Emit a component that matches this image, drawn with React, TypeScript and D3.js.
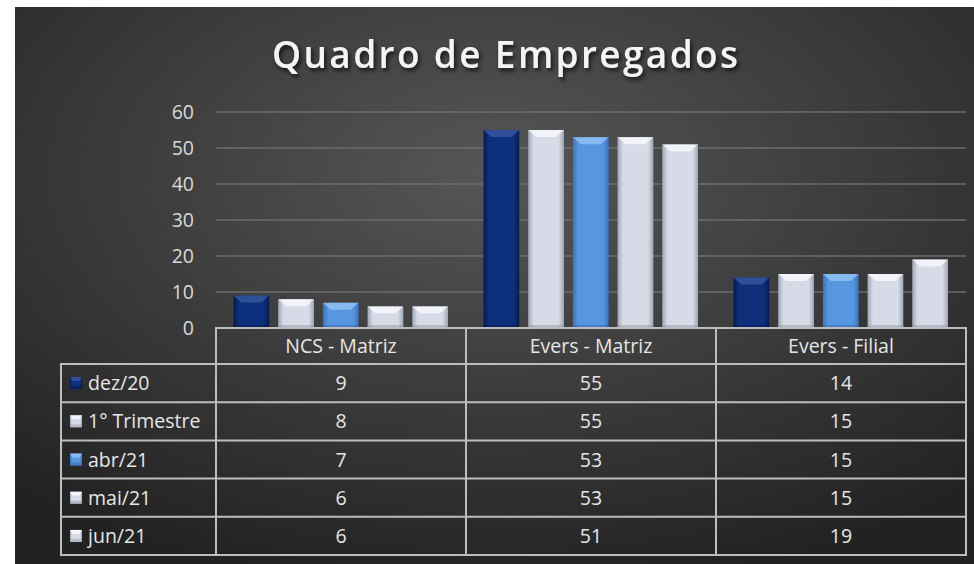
import React from "react";
import * as d3 from "d3";

const categories = ["NCS - Matriz", "Evers - Matriz", "Evers - Filial"];
const seriesNames = ["dez/20", "1° Trimestre", "abr/21", "mai/21", "jun/21"];
const dez20 = [9, 55, 14];
const trim1 = [8, 55, 15];
const abr21 = [7, 53, 15];
const mai21 = [6, 53, 15];
const jun21 = [6, 51, 19];
const seriesValues = [dez20, trim1, abr21, mai21, jun21];
const yTicks = [0, 10, 20, 30, 40, 50, 60];
const seriesStyle = ["navy", "silver", "blue", "silver", "silver"];

const W = 974;
const H = 564;
const FONT = "'Open Sans', Lato, sans-serif";

const palettes: Record<string, { edge: string; mid: string; top: string; bottom: string }> = {
  navy: { edge: "#061a4c", mid: "#0e2f7c", top: "#3b5ca3", bottom: "#051640" },
  silver: { edge: "#9ea6b6", mid: "#d6dbe7", top: "#fbfcff", bottom: "#8e95a4" },
  blue: { edge: "#3a72bd", mid: "#5797e0", top: "#95c6f5", bottom: "#2f62a8" },
};

export default function App() {
  const plotTop = 112;
  const plotBottom = 328;
  const left = 216;
  const right = 966;
  const y = d3.scaleLinear().domain([0, 60]).range([plotBottom, plotTop]);
  const x0 = d3.scaleBand<string>().domain(categories).range([left, right]).padding(0);
  const bw0 = x0.bandwidth();
  const x1 = d3
    .scaleBand<number>()
    .domain(d3.range(seriesNames.length))
    .range([17.5, bw0 - 18])
    .paddingInner(0.2)
    .paddingOuter(0);

  const headerTop = plotBottom;
  const headerH = 36;
  const rowTop = headerTop + headerH;
  const rowH = 38.2;
  const tableBottom = rowTop + rowH * seriesNames.length;
  const legendLeft = 61;

  const bar = (xx: number, yy: number, w: number, h: number, style: string, key: string, small = false) => {
    const chamf = small ? Math.min(4, h / 2) : Math.min(7, h / 2);
    const side = small ? 2.5 : Math.min(8, w / 4);
    return (
      <g key={key}>
        <rect x={xx} y={yy} width={w} height={h} fill={`url(#g-${style})`} />
        <polygon
          points={`${xx},${yy} ${xx + w},${yy} ${xx + w - side},${yy + chamf} ${xx + side},${yy + chamf}`}
          fill={palettes[style].top}
          opacity={0.75}
        />
        <rect x={xx} y={yy + h - 3} width={w} height={3} fill={palettes[style].bottom} opacity={0.45} />
      </g>
    );
  };

  return (
    <svg
      width={W}
      height={H}
      style={{ position: "absolute", left: 0, top: 0, background: "#ffffff" }}
      fontFamily={FONT}
    >
      <defs>
        <radialGradient id="bg" cx="0.5" cy="0.3" r="0.75" gradientUnits="objectBoundingBox">
          <stop offset="0" stopColor="#565656" />
          <stop offset="0.55" stopColor="#3a3a3a" />
          <stop offset="1" stopColor="#222222" />
        </radialGradient>
        {Object.entries(palettes).map(([k, p]) => (
          <linearGradient key={k} id={`g-${k}`} x1="0" x2="1" y1="0" y2="0">
            <stop offset="0" stopColor={p.edge} />
            <stop offset="0.15" stopColor={p.mid} />
            <stop offset="0.85" stopColor={p.mid} />
            <stop offset="1" stopColor={p.edge} />
          </linearGradient>
        ))}
        <filter id="shadow" x="-10%" y="-30%" width="120%" height="160%">
          <feDropShadow dx="2" dy="3" stdDeviation="2" floodColor="#000" floodOpacity="0.7" />
        </filter>
      </defs>
      <rect x={15} y={7} width={W - 15} height={H - 7} fill="url(#bg)" />

      <text
        x={505}
        y={68}
        textAnchor="middle"
        fill="#f4f4f4"
        fontSize={37}
        fontWeight={600}
        textLength={466}
        lengthAdjust="spacing"
        filter="url(#shadow)"
      >
        Quadro de Empregados
      </text>

      {yTicks.map((t) => (
        <g key={t}>
          {t > 0 && (
            <line x1={left} x2={right} y1={y(t)} y2={y(t)} stroke="#6c6c6c" strokeWidth={1.5} />
          )}
          <text x={194} y={y(t)} dy="0.36em" textAnchor="end" fill="#d9d9d9" fontSize={19.5}>
            {t}
          </text>
        </g>
      ))}

      {categories.map((c, ci) =>
        seriesValues.map((vals, si) => {
          const xx = (x0(c) as number) + (x1(si) as number);
          const yy = y(vals[ci]);
          return bar(xx, yy, x1.bandwidth(), plotBottom - yy, seriesStyle[si], `${ci}-${si}`);
        })
      )}

      {/* table */}
      <g stroke="#bdbdbd" strokeWidth={2} fill="none">
        <rect x={left} y={headerTop} width={right - left} height={tableBottom - headerTop} />
        <rect x={legendLeft} y={rowTop} width={right - legendLeft} height={tableBottom - rowTop} />
        {categories.slice(1).map((c) => (
          <line key={c} x1={x0(c)} x2={x0(c)} y1={headerTop} y2={tableBottom} />
        ))}
        {seriesNames.slice(1).map((s, i) => (
          <line key={s} x1={legendLeft} x2={right} y1={rowTop + rowH * (i + 1)} y2={rowTop + rowH * (i + 1)} />
        ))}
      </g>

      {categories.map((c) => (
        <text
          key={c}
          x={(x0(c) as number) + bw0 / 2}
          y={headerTop + headerH / 2}
          dy="0.36em"
          textAnchor="middle"
          fill="#e6e6e6"
          fontSize={19.5}
        >
          {c}
        </text>
      ))}

      {seriesNames.map((s, si) => {
        const cy = rowTop + rowH * si + rowH / 2;
        return (
          <g key={s}>
            {bar(70, cy - 6, 12, 12, seriesStyle[si], `k-${si}`, true)}
            <text x={88} y={cy} dy="0.36em" fill="#e6e6e6" fontSize={19.5}>
              {s}
            </text>
            {categories.map((c, ci) => (
              <text
                key={c}
                x={(x0(c) as number) + bw0 / 2}
                y={cy}
                dy="0.36em"
                textAnchor="middle"
                fill="#e6e6e6"
                fontSize={19.5}
              >
                {seriesValues[si][ci]}
              </text>
            ))}
          </g>
        );
      })}
    </svg>
  );
}
